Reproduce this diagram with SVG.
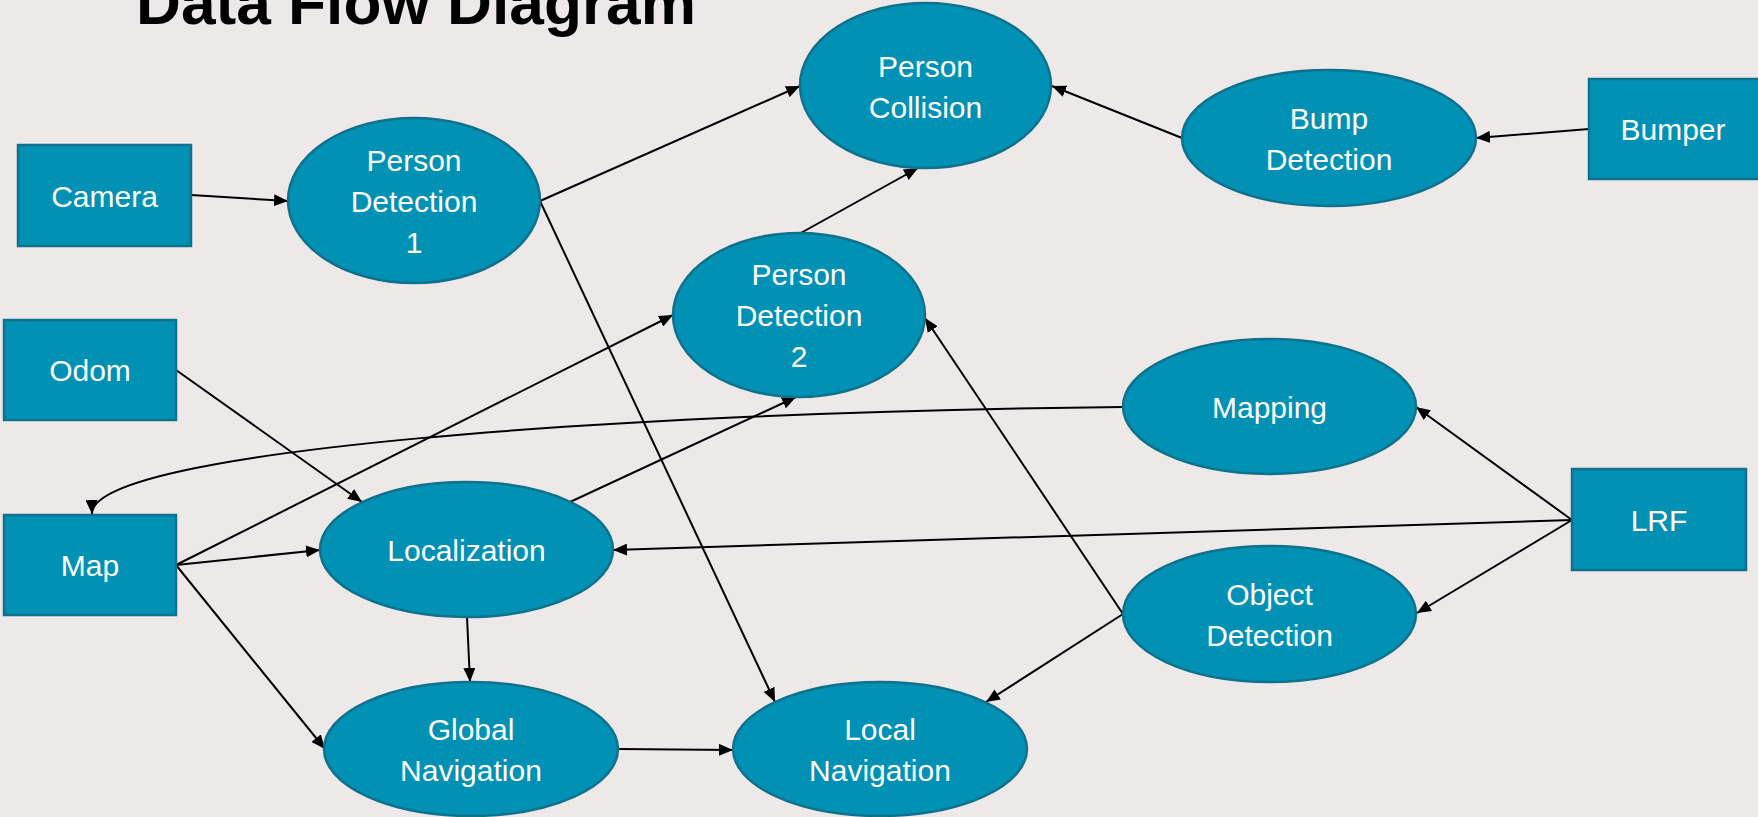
<svg xmlns="http://www.w3.org/2000/svg" width="1758" height="817" viewBox="0 0 1758 817">
  <defs>
    <marker id="arrow" markerWidth="14" markerHeight="12" refX="14" refY="6" orient="auto" markerUnits="userSpaceOnUse">
      <path d="M0,0 L14,6 L0,12 Z" fill="#000"/>
    </marker>
    <style>
      .proc { fill: #0091B4; stroke: #10718C; stroke-width: 2.5; }
      .ext { fill: #0091B4; stroke: #10718C; stroke-width: 2.5; }
      .lbl { font-family: "Liberation Sans", Arial, sans-serif; font-size: 30px; fill: #FFFFFF; text-anchor: middle; }
      .flow { fill: none; stroke: #000; stroke-width: 2; marker-end: url(#arrow); }
      .title { font-family: "Liberation Sans", Arial, sans-serif; font-weight: bold; font-size: 62px; fill: #000; }
    </style>
  </defs>

  <rect width="1758" height="817" fill="#EEE9E9"/>

  <text class="title" x="136" y="24" textLength="560" lengthAdjust="spacingAndGlyphs">Data Flow Diagram</text>

  <!-- data flows -->
  <g id="connectors">
    <line class="flow" x1="191" y1="195" x2="288" y2="201"/>
    <line class="flow" x1="540" y1="201" x2="800" y2="86"/>
    <line class="flow" x1="540" y1="201" x2="775" y2="702"/>
    <line class="flow" x1="799" y1="234" x2="918" y2="168"/>
    <line class="flow" x1="1182" y1="138" x2="1052" y2="86"/>
    <line class="flow" x1="1589" y1="129" x2="1476" y2="138"/>
    <line class="flow" x1="176" y1="370" x2="362" y2="502"/>
    <line class="flow" x1="176" y1="565" x2="673" y2="315"/>
    <line class="flow" x1="176" y1="565" x2="320" y2="550"/>
    <line class="flow" x1="176" y1="565" x2="325" y2="749"/>
    <line class="flow" x1="570" y1="502" x2="796" y2="397"/>
    <line class="flow" x1="467" y1="617" x2="470" y2="682"/>
    <line class="flow" x1="618" y1="749" x2="733" y2="750"/>
    <path class="flow" d="M1123,407 C620,412 90,450 92,514"/>
    <line class="flow" x1="1572" y1="520" x2="1416" y2="407"/>
    <line class="flow" x1="1572" y1="520" x2="613" y2="550"/>
    <line class="flow" x1="1572" y1="520" x2="1417" y2="613"/>
    <line class="flow" x1="1123" y1="614" x2="925" y2="318"/>
    <line class="flow" x1="1123" y1="614" x2="986" y2="702"/>
  </g>

  <!-- external entities -->
  <g id="camera">
    <rect class="ext" x="18" y="145" width="173" height="101"/>
    <text class="lbl" x="104.5" y="207">Camera</text>
  </g>
  <g id="odom">
    <rect class="ext" x="4" y="320" width="172" height="100"/>
    <text class="lbl" x="90" y="381">Odom</text>
  </g>
  <g id="map">
    <rect class="ext" x="4" y="515" width="172" height="100"/>
    <text class="lbl" x="90" y="576">Map</text>
  </g>
  <g id="bumper">
    <rect class="ext" x="1589" y="79" width="175" height="100"/>
    <text class="lbl" x="1673" y="140">Bumper</text>
  </g>
  <g id="lrf">
    <rect class="ext" x="1572" y="469" width="174" height="101"/>
    <text class="lbl" x="1659" y="531">LRF</text>
  </g>

  <!-- processes -->
  <g id="person-detection-1">
    <ellipse class="proc" cx="414" cy="200.5" rx="126" ry="82.5"/>
    <text class="lbl" x="414" y="171">Person</text>
    <text class="lbl" x="414" y="212">Detection</text>
    <text class="lbl" x="414" y="253">1</text>
  </g>
  <g id="person-collision">
    <ellipse class="proc" cx="925.5" cy="85.5" rx="125.5" ry="82.5"/>
    <text class="lbl" x="925.5" y="77">Person</text>
    <text class="lbl" x="925.5" y="118">Collision</text>
  </g>
  <g id="bump-detection">
    <ellipse class="proc" cx="1329" cy="138" rx="147" ry="68"/>
    <text class="lbl" x="1329" y="129">Bump</text>
    <text class="lbl" x="1329" y="170">Detection</text>
  </g>
  <g id="person-detection-2">
    <ellipse class="proc" cx="799" cy="315" rx="126" ry="82"/>
    <text class="lbl" x="799" y="285">Person</text>
    <text class="lbl" x="799" y="326">Detection</text>
    <text class="lbl" x="799" y="367">2</text>
  </g>
  <g id="mapping">
    <ellipse class="proc" cx="1269.5" cy="406.5" rx="146.5" ry="67.5"/>
    <text class="lbl" x="1269.5" y="418">Mapping</text>
  </g>
  <g id="localization">
    <ellipse class="proc" cx="466.5" cy="549.5" rx="146.5" ry="67.5"/>
    <text class="lbl" x="466.5" y="561">Localization</text>
  </g>
  <g id="object-detection">
    <ellipse class="proc" cx="1269.5" cy="614" rx="146.5" ry="68"/>
    <text class="lbl" x="1269.5" y="605">Object</text>
    <text class="lbl" x="1269.5" y="646">Detection</text>
  </g>
  <g id="global-navigation">
    <ellipse class="proc" cx="471" cy="749" rx="147" ry="67"/>
    <text class="lbl" x="471" y="740">Global</text>
    <text class="lbl" x="471" y="781">Navigation</text>
  </g>
  <g id="local-navigation">
    <ellipse class="proc" cx="880" cy="749" rx="147" ry="67"/>
    <text class="lbl" x="880" y="740">Local</text>
    <text class="lbl" x="880" y="781">Navigation</text>
  </g>
</svg>
